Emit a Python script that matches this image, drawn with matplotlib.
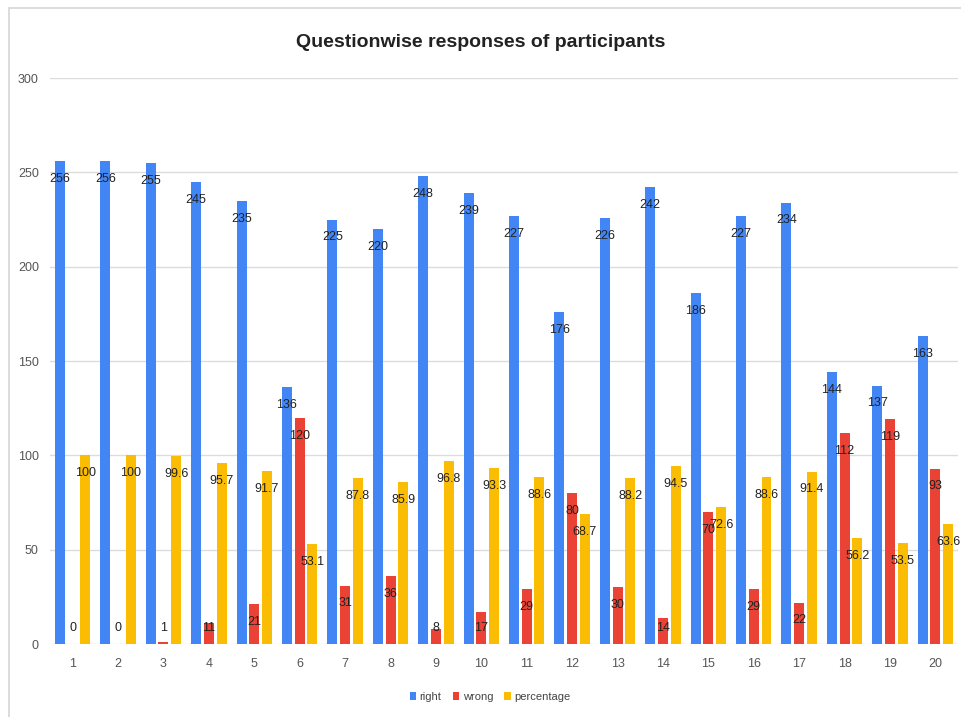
import numpy as np
import matplotlib
matplotlib.use("Agg")
import matplotlib.pyplot as plt
from matplotlib.patches import Rectangle

plt.rcParams['font.family'] = ['Liberation Sans', 'DejaVu Sans']

questions = [str(i) for i in range(1, 21)]
right = [256, 256, 255, 245, 235, 136, 225, 220, 248, 239,
         227, 176, 226, 242, 186, 227, 234, 144, 137, 163]
wrong = [0, 0, 1, 11, 21, 120, 31, 36, 8, 17,
         29, 80, 30, 14, 70, 29, 22, 112, 119, 93]
percentage = [100, 100, 99.6, 95.7, 91.7, 53.1, 87.8, 85.9, 96.8, 93.3,
              88.6, 68.7, 88.2, 94.5, 72.6, 88.6, 91.4, 56.2, 53.5, 63.6]

series = [("right", right, "#4285F4"),
          ("wrong", wrong, "#EA4335"),
          ("percentage", percentage, "#FBBC04")]

fig = plt.figure(figsize=(9.61, 7.17), dpi=100)
ax = fig.add_axes([0.052, 0.1018, 0.945, 0.7894])

# light frame round the chart
fig.patches.append(Rectangle((9 / 961, -0.1), 2, 1 - 8 / 717 + 0.1,
                             transform=fig.transFigure, fill=False,
                             edgecolor="#d6d6d6", linewidth=1.2))

x = np.arange(1, 21)
width = 0.22
offsets = [-0.28, 0.0, 0.28]

for (name, vals, color), off in zip(series, offsets):
    ax.bar(x + off, vals, width=width, color=color, label=name, zorder=2)
    for xi, v in zip(x, vals):
        txt = f"{v:g}"
        ax.text(xi + off, max(v - 9.5, 8.5), txt, ha="center", va="center",
                fontsize=9, color="#222222", fontstretch="condensed",
                family=["Liberation Sans Narrow", "Liberation Sans"], zorder=3)

ax.set_xlim(0.5, 20.5)
ax.set_ylim(0, 300)
ax.set_yticks(range(0, 301, 50))
ax.set_xticks(x)
ax.set_xticklabels(questions)
ax.grid(axis="y", color="#dcdcdc", linewidth=1, zorder=0)
for s in ax.spines.values():
    s.set_visible(False)
ax.tick_params(length=0, colors="#555555", labelsize=9)
ax.tick_params(axis="x", pad=10)
ax.tick_params(axis="y", pad=8)

fig.text(0.5, 0.941, "Questionwise responses of participants", ha="center",
         va="center", fontsize=14, fontweight="bold", color="#222222")

fig.legend(loc="center", bbox_to_anchor=(0.51, 0.028), ncol=3, frameon=False,
           fontsize=8, handlelength=0.6, handleheight=0.6, handletextpad=0.3,
           columnspacing=1.0, labelcolor="#444444")

fig.savefig("out.png", dpi=100)
